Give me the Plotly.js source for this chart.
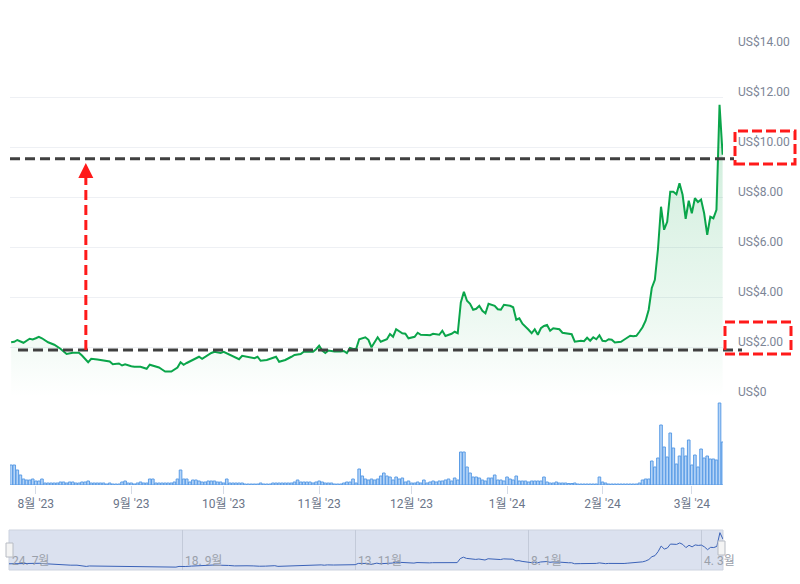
<!DOCTYPE html>
<html>
<head>
<meta charset="utf-8">
<script src="https://cdn.plot.ly/plotly-3.0.1.min.js"></script>
<style>html,body{margin:0;padding:0;background:#fff;}#chart{width:800px;height:584px;}</style>
</head>
<body>
<div id="chart"></div>
<script>
// ---------------- DATA ----------------
const priceDates = [
"2023-07-24","2023-07-25","2023-07-26","2023-07-28","2023-07-30","2023-07-31","2023-08-01","2023-08-02","2023-08-03","2023-08-05",
"2023-08-07","2023-08-08","2023-08-09","2023-08-11","2023-08-13","2023-08-15","2023-08-16","2023-08-18","2023-08-19","2023-08-21",
"2023-08-23","2023-08-25","2023-08-26","2023-08-28","2023-08-29","2023-08-30","2023-09-01","2023-09-02","2023-09-04","2023-09-06",
"2023-09-07","2023-09-09","2023-09-10","2023-09-11","2023-09-12","2023-09-14","2023-09-16","2023-09-17","2023-09-18","2023-09-19",
"2023-09-21","2023-09-22","2023-09-23","2023-09-24","2023-09-26","2023-09-27","2023-09-28","2023-09-30","2023-10-01","2023-10-03",
"2023-10-05","2023-10-06","2023-10-07","2023-10-09","2023-10-11","2023-10-12","2023-10-13","2023-10-15","2023-10-17","2023-10-18",
"2023-10-19","2023-10-21","2023-10-23","2023-10-24","2023-10-26","2023-10-27","2023-10-28","2023-10-30","2023-10-31","2023-11-01",
"2023-11-02","2023-11-03","2023-11-04","2023-11-06","2023-11-08","2023-11-09","2023-11-10","2023-11-11","2023-11-12","2023-11-13",
"2023-11-14","2023-11-16","2023-11-17","2023-11-18","2023-11-20","2023-11-21","2023-11-23","2023-11-24","2023-11-25","2023-11-26",
"2023-11-28","2023-11-29","2023-11-30","2023-12-02","2023-12-03","2023-12-04","2023-12-06","2023-12-07","2023-12-08","2023-12-10",
"2023-12-11","2023-12-12","2023-12-14","2023-12-15","2023-12-16","2023-12-17","2023-12-18","2023-12-19","2023-12-20","2023-12-21",
"2023-12-22","2023-12-23","2023-12-24","2023-12-25","2023-12-26","2023-12-28","2023-12-29","2023-12-30","2023-12-31","2024-01-02",
"2024-01-03","2024-01-04","2024-01-05","2024-01-06","2024-01-08","2024-01-09","2024-01-10","2024-01-11","2024-01-12","2024-01-13",
"2024-01-14","2024-01-15","2024-01-16","2024-01-18","2024-01-19","2024-01-21","2024-01-22","2024-01-23","2024-01-25","2024-01-26",
"2024-01-27","2024-01-28","2024-01-29","2024-01-30","2024-01-31","2024-02-01","2024-02-02","2024-02-03","2024-02-04","2024-02-05",
"2024-02-07","2024-02-08","2024-02-09","2024-02-10","2024-02-11","2024-02-12","2024-02-13","2024-02-14","2024-02-15","2024-02-16",
"2024-02-17","2024-02-18","2024-02-19","2024-02-20","2024-02-21","2024-02-22","2024-02-23","2024-02-24","2024-02-25","2024-02-26",
"2024-02-27","2024-02-28","2024-02-29","2024-03-01","2024-03-02","2024-03-03","2024-03-04","2024-03-05","2024-03-06","2024-03-07",
"2024-03-08","2024-03-09","2024-03-10","2024-03-11"
];
const prices = [
2.19,2.21,2.28,2.17,2.33,2.30,2.35,2.41,2.35,2.19,
2.09,2.01,1.93,1.72,1.77,1.77,1.66,1.39,1.53,1.50,
1.47,1.42,1.31,1.34,1.26,1.31,1.23,1.21,1.21,1.13,
1.29,1.21,1.18,1.10,1.02,1.02,1.18,1.39,1.29,1.36,
1.49,1.55,1.61,1.53,1.69,1.76,1.81,1.76,1.81,1.69,
1.55,1.51,1.65,1.59,1.55,1.61,1.45,1.48,1.55,1.61,
1.41,1.48,1.61,1.68,1.72,1.81,1.81,1.81,1.91,2.05,
1.86,1.76,1.86,1.82,1.82,1.84,1.76,1.96,1.92,1.92,
2.31,2.39,2.29,1.99,2.39,2.21,2.31,2.52,2.41,2.71,
2.55,2.53,2.35,2.41,2.57,2.49,2.48,2.47,2.53,2.49,
2.65,2.44,2.53,2.61,2.55,3.78,4.21,3.85,3.73,3.49,
3.53,3.65,3.45,3.35,3.73,3.65,3.51,3.49,3.69,3.65,
3.59,3.09,3.15,2.93,2.69,2.55,2.71,2.49,2.75,2.84,
2.88,2.65,2.75,2.71,2.57,2.51,2.51,2.21,2.25,2.23,
2.37,2.25,2.39,2.31,2.47,2.25,2.23,2.31,2.29,2.18,
2.21,2.29,2.37,2.45,2.43,2.45,2.61,2.79,3.05,3.49,
4.36,4.69,5.90,7.61,6.69,7.01,8.21,8.21,8.11,8.55,
8.09,7.13,7.85,7.35,7.95,7.80,7.90,7.35,6.49,7.21,
7.15,7.49,11.69,9.69
];
// daily trading volume (relative units, millions), one value per day from 24 Jul 2023
const volumeStart = "2023-07-24";
const volumes = [
20,20,15,10,6,5,5,6,4,4, 6,2,2,2,2,2,3,3,2,3,
3,2,2,3,3,4,2,2,2,2, 2,1,2,1,1,1,3,4,2,2,
1,2,3,2,2,6,6,2,2,2, 2,2,2,3,6,15,6,6,3,5,
5,4,3,3,4,4,4,3,3,2, 6,2,2,2,2,2,1,1,1,1,
1,2,1,1,1,2,2,2,2,2, 2,2,3,5,3,3,3,3,2,3,
4,3,2,2,2,1,1,1,2,3, 3,6,2,16,9,6,5,6,5,6,
9,12,9,8,5,8,6,7,3,4, 2,2,3,2,5,2,3,4,3,4,
4,5,6,4,7,5,33,33,18,12, 8,8,7,5,4,7,7,10,5,5,
4,8,6,5,9,4,4,4,3,4, 4,4,4,8,3,2,2,3,2,2,
2,1.5,1.5,2,1,1,1,1,1,1, 1,8,3,2,1,1,1,1,1,1,
1,1,1,1,2,5,6,6,24,18, 27,60,38,28,52,37,21,29,37,29,
45,20,30,18,36,27,29,26,26,25, 82,43
];
const priceTickVals = [0,2,4,6,8,10,12,14];
const priceTickText = ["US$0","US$2.00","US$4.00","US$6.00","US$8.00","US$10.00","US$12.00","US$14.00"];
const monthTickVals = ["2023-08-01","2023-09-01","2023-10-01","2023-11-01","2023-12-01","2024-01-01","2024-02-01","2024-03-01"];
const monthTickText = ["8월 '23","9월 '23","10월 '23","11월 '23","12월 '23","1월 '24","2월 '24","3월 '24"];
const navTickVals = ["2023-07-24","2023-09-18","2023-11-13","2024-01-08","2024-03-04"];
const navTickText = ["24. 7월","18. 9월","13. 11월","8. 1월","4. 3월"];
const supportLevel = 1.88;
const resistanceLevel = 9.53;
const arrowDate = "2023-08-17 06:00";
const arrowTip = 9.36;

// ---------------- BUILD ----------------
const volDates = volumes.map((v, i) => {
  const d = new Date(volumeStart + "T00:00:00Z");
  d.setUTCDate(d.getUTCDate() + i);
  return d.toISOString().slice(0, 10);
});

const W = 800, H = 584;
const px = x => x / W;
const py = y => 1 - y / H;
const FONT = 'Roboto, "Noto Sans CJK KR", sans-serif';
const xRange = ["2023-07-23 15:00", "2024-03-11 03:00"];

const traces = [
  {
    type: "scatter", mode: "lines", x: priceDates, y: prices, xaxis: "x", yaxis: "y",
    line: { color: "#0aa54a", width: 2 },
    fill: "tozeroy",
    fillgradient: { type: "vertical", start: 0, stop: 12,
      colorscale: [[0, "rgba(10,165,74,0.0)"], [0.25, "rgba(10,165,74,0.07)"], [1, "rgba(10,165,74,0.22)"]] },
    hoverinfo: "skip"
  },
  {
    type: "bar", x: volDates, y: volumes, xaxis: "x", yaxis: "y2",
    width: 0.85 * 86400000,
    marker: { color: "rgba(132,184,242,0.6)", line: { color: "#5c9de6", width: 1 } },
    hoverinfo: "skip"
  },
  {
    type: "scatter", mode: "lines", x: priceDates, y: prices, xaxis: "x2", yaxis: "y3",
    line: { color: "#3a62b8", width: 1 }, hoverinfo: "skip"
  }
];

const shapes = [
  // navigator background
  { type: "rect", xref: "paper", yref: "paper", x0: px(9), x1: px(723), y0: py(570), y1: py(530),
    fillcolor: "#dbe1ef", line: { color: "#cdd3df", width: 1 }, layer: "below" },
  // support / resistance dashed lines
  { type: "line", xref: "paper", yref: "y", x0: px(18), x1: px(742), y0: supportLevel, y1: supportLevel,
    line: { color: "#404040", width: 3, dash: "10px,5px" }, layer: "above" },
  { type: "line", xref: "paper", yref: "y", x0: px(10), x1: px(734), y0: resistanceLevel, y1: resistanceLevel,
    line: { color: "#404040", width: 3, dash: "10px,5px" }, layer: "above" },
  // red dashed arrow shaft
  { type: "line", xref: "x", yref: "y", x0: arrowDate, x1: arrowDate, y0: supportLevel, y1: arrowTip - 0.45,
    line: { color: "#ff1a1a", width: 3, dash: "10px,5px" }, layer: "above" },
  // red dashed boxes around axis labels
  { type: "rect", xref: "paper", yref: "paper", x0: px(735), x1: px(795), y0: py(164), y1: py(131),
    line: { color: "#ff1a1a", width: 3, dash: "10px,4px" }, fillcolor: "rgba(0,0,0,0)", layer: "above" },
  { type: "rect", xref: "paper", yref: "paper", x0: px(725), x1: px(791), y0: py(354), y1: py(322),
    line: { color: "#ff1a1a", width: 3, dash: "10px,4px" }, fillcolor: "rgba(0,0,0,0)", layer: "above" },
  // navigator handles
  { type: "rect", xref: "paper", yref: "paper", x0: px(6), x1: px(13), y0: py(557), y1: py(543),
    fillcolor: "#f4f4f4", line: { color: "#b8bcc4", width: 1 }, layer: "above" },
  { type: "rect", xref: "paper", yref: "paper", x0: px(718), x1: px(725), y0: py(555), y1: py(541),
    fillcolor: "#f4f4f4", line: { color: "#b8bcc4", width: 1 }, layer: "above" }
];

const annotations = navTickVals.map((d, i) => ({
  xref: "x2", yref: "paper", x: d, y: py(561), xanchor: "left", yanchor: "middle", xshift: 1,
  text: navTickText[i], showarrow: false, font: { family: FONT, size: 12, color: "#9aa0aa" }
}));
annotations.push({
  xref: "x", yref: "y", x: arrowDate, y: arrowTip, ax: 0, ay: 14, axref: "pixel", ayref: "pixel",
  text: "", showarrow: true, arrowhead: 2, arrowsize: 1, arrowwidth: 3, arrowcolor: "#ff1a1a"
});

const layout = {
  width: W, height: H,
  margin: { l: 0, r: 0, t: 0, b: 0 },
  paper_bgcolor: "#ffffff", plot_bgcolor: "rgba(0,0,0,0)",
  showlegend: false,
  font: { family: FONT, size: 12, color: "#6b7589" },
  xaxis: {
    type: "date", domain: [px(10), px(723)], range: xRange, anchor: "y2",
    tickmode: "array", tickvals: monthTickVals, ticktext: monthTickText,
    ticks: "outside", ticklen: 8, tickcolor: "#d5dbe6", tickwidth: 1,
    showgrid: false, zeroline: false, showline: false,
    tickfont: { family: FONT, size: 12, color: "#6b7589" }
  },
  yaxis: {
    domain: [py(397), py(47)], range: [0, 14], anchor: "x", side: "right",
    tickmode: "array", tickvals: priceTickVals, ticktext: priceTickText,
    gridcolor: "#eef0f4", gridwidth: 1, zeroline: false, showline: false, ticks: "",
    ticklabelstandoff: 14, ticklabelshift: -5,
    tickfont: { family: FONT, size: 12, color: "#7c8596" }
  },
  yaxis2: {
    domain: [py(485), py(397)], range: [0, 88], anchor: "x",
    showgrid: false, zeroline: false, showticklabels: false, showline: false
  },
  xaxis2: {
    type: "date", domain: [px(9), px(723)], range: ["2023-07-24", "2024-03-11"], anchor: "y3",
    tickmode: "array", tickvals: navTickVals, showticklabels: false, ticks: "",
    showgrid: true, gridcolor: "#c3cad9", zeroline: false, showline: false
  },
  yaxis3: {
    domain: [py(570), py(530)], range: [0.3, 12.5], anchor: "x2",
    showgrid: false, zeroline: false, showticklabels: false, showline: false
  },
  bargap: 0.1,
  shapes: shapes,
  annotations: annotations
};

Plotly.newPlot("chart", traces, layout, { displayModeBar: false, staticPlot: true });
</script>
</body>
</html>
